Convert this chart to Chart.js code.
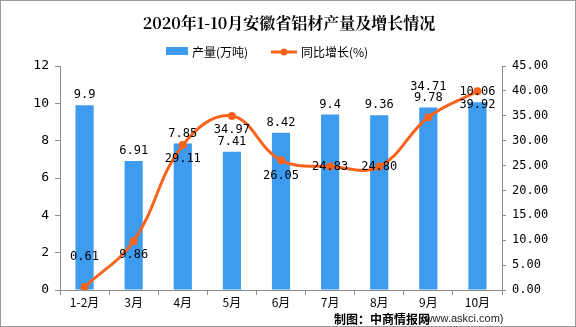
<!DOCTYPE html>
<html>
<head>
<meta charset="utf-8">
<script src="https://cdn.jsdelivr.net/npm/chart.js@4/dist/chart.umd.min.js"></script>
<style>
  html, body { margin: 0; padding: 0; background: #fff; }
  #wrap { width: 576px; height: 327px; position: relative; box-sizing: border-box; border: 1px solid #9a9a9a; }
</style>
</head>
<body>
<div id="wrap"><canvas id="grafico"></canvas></div>
<script>
const categorias = ['1-2月', '3月', '4月', '5月', '6月', '7月', '8月', '9月', '10月'];
const producao = [9.9, 6.91, 7.85, 7.41, 8.42, 9.4, 9.36, 9.78, 10.06];
const crescimento = [0.61, 9.86, 29.11, 34.97, 26.05, 24.83, 24.80, 34.71, 39.92];
const ticksEsquerda = [0, 2, 4, 6, 8, 10, 12];
const ticksDireita = [0, 5, 10, 15, 20, 25, 30, 35, 40, 45];

// deslocamento vertical dos rótulos da linha (estilo)
const deslocRotulos = [-30, 14, 14, 14, 16, 0, 0, -30, 14];

const corBarra = '#3d9cf0';
const corLinha = '#f7631c';
const fonteMono = '"DejaVu Sans Mono", "Liberation Mono", monospace';
const fonteCJK = '"Noto Sans CJK SC", sans-serif';

const extras = {
    id: 'extras',
    afterDatasetsDraw(chart) {
        const ctx = chart.ctx;
        ctx.save();
        ctx.fillStyle = '#000';
        ctx.font = '12px ' + fonteMono;
        ctx.textAlign = 'center';
        ctx.textBaseline = 'middle';

        chart.getDatasetMeta(1).data.forEach((bar, i) => {
            ctx.fillText(String(producao[i]), bar.x, bar.y - 10);
        });
        chart.getDatasetMeta(0).data.forEach((pt, i) => {
            ctx.fillText(crescimento[i].toFixed(2), pt.x, pt.y + deslocRotulos[i]);
        });

        // título
        ctx.font = 'bold 16px "Noto Serif CJK SC", ' + fonteCJK;
        ctx.fillText('2020年1-10月安徽省铝材产量及增长情况', 288, 22);

        // legenda
        ctx.font = '12px ' + fonteCJK;
        ctx.textAlign = 'left';
        ctx.fillStyle = corBarra;
        ctx.fillRect(165, 46, 22, 8);
        ctx.fillStyle = '#000';
        ctx.fillText('产量(万吨)', 191, 51);
        ctx.strokeStyle = corLinha;
        ctx.lineWidth = 3;
        ctx.beginPath();
        ctx.moveTo(270, 51);
        ctx.lineTo(296, 51);
        ctx.stroke();
        ctx.fillStyle = corLinha;
        ctx.beginPath();
        ctx.arc(283, 51, 3.5, 0, Math.PI * 2);
        ctx.fill();
        ctx.fillStyle = '#000';
        ctx.fillText('同比增长(%)', 300, 51);

        // rodapé
        ctx.font = 'bold 12px ' + fonteCJK;
        ctx.fillText('制图：中商情报网', 333, 318);
        ctx.font = '11px "Liberation Sans", Arial, sans-serif';
        ctx.fillStyle = '#222';
        ctx.fillText('(www.askci.com)', 420, 318);
        ctx.restore();
    }
};

new Chart(document.getElementById('grafico').getContext('2d'), {
    type: 'bar',
    data: {
        labels: categorias,
        datasets: [{
            type: 'line',
            label: '同比增长(%)',
            data: crescimento,
            yAxisID: 'y1',
            borderColor: corLinha,
            backgroundColor: corLinha,
            borderWidth: 3,
            pointRadius: 4,
            pointBackgroundColor: corLinha,
            pointBorderWidth: 0,
            tension: 0.4,
            order: 0
        }, {
            label: '产量(万吨)',
            data: producao,
            backgroundColor: corBarra,
            yAxisID: 'y',
            categoryPercentage: 1,
            barPercentage: 0.37,
            order: 1
        }]
    },
    options: {
        responsive: true,
        maintainAspectRatio: false,
        animation: false,
        layout: { padding: { top: 65, left: 0, right: 0, bottom: 0 } },
        plugins: {
            legend: { display: false },
            title: { display: false },
            tooltip: { enabled: false }
        },
        scales: {
            x: {
                offset: true,
                grid: { display: true, drawOnChartArea: false, offset: true, color: '#8c8c8c', tickLength: 5 },
                border: { color: '#8c8c8c' },
                ticks: { color: '#000', font: { size: 12, family: fonteCJK }, padding: 0, maxRotation: 0 },
                afterFit(scale) { scale.height = 36; }
            },
            y: {
                position: 'left',
                min: 0,
                max: 12,
                afterBuildTicks(scale) { scale.ticks = ticksEsquerda.map(v => ({ value: v })); },
                grid: { display: true, drawOnChartArea: false, color: '#8c8c8c', tickLength: 5 },
                border: { color: '#8c8c8c' },
                ticks: { color: '#000', font: { size: 13, family: fonteMono }, padding: 6 },
                afterFit(scale) { scale.width = 59; }
            },
            y1: {
                position: 'right',
                min: 0,
                max: 45,
                afterBuildTicks(scale) { scale.ticks = ticksDireita.map(v => ({ value: v })); },
                grid: { display: true, drawOnChartArea: false, color: '#8c8c8c', tickLength: 4 },
                border: { color: '#8c8c8c' },
                ticks: {
                    color: '#000',
                    font: { size: 12, family: fonteMono },
                    padding: 6,
                    callback: v => Number(v).toFixed(2)
                },
                afterFit(scale) { scale.width = 73; }
            }
        }
    },
    plugins: [extras]
});
</script>
</body>
</html>
